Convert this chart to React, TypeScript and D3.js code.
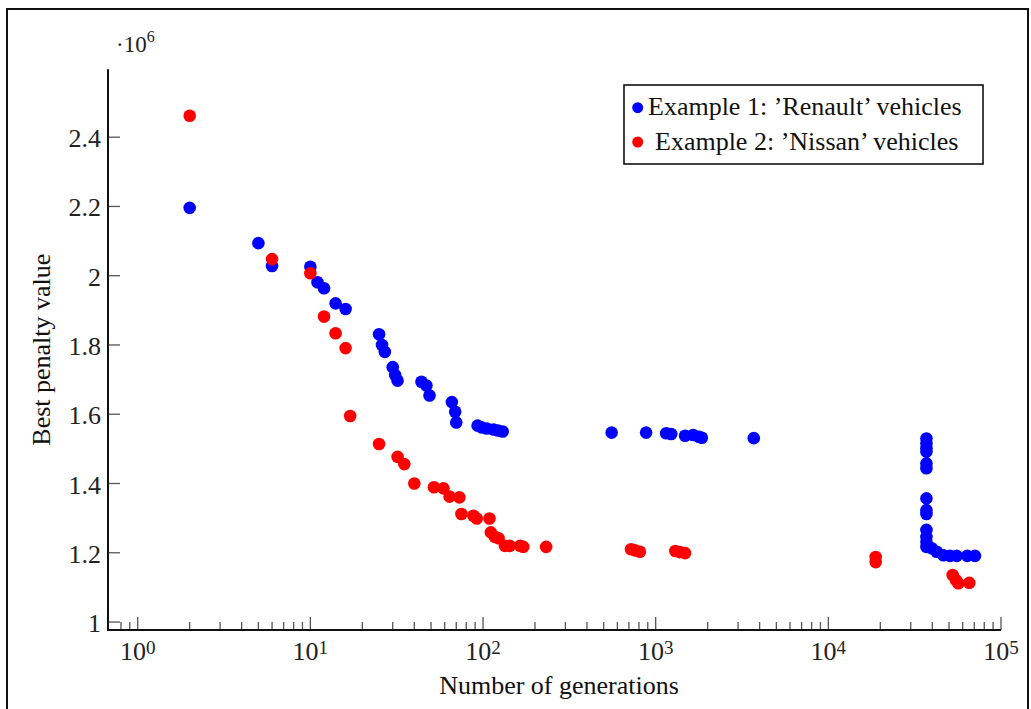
import React from "react";
import * as d3 from "d3";

// Data (penalty values in units of 10^6)
const renaultGenerations = [
  2, 5, 6, 10, 11, 12, 14, 16, 25, 26, 27, 30, 31, 32,
  44, 47, 49, 66, 69, 70,
  93, 98, 105, 115, 122, 130,
  556, 880, 1150, 1230, 1480, 1650, 1780, 1850, 3700,
  37000, 37000, 37000, 37000, 37000, 37000, 37000, 37000, 37000, 37000, 37000, 37000, 37000,
  39700, 42400, 46400, 50700, 55400, 63800, 70700,
];
const renaultPenalty = [
  2.196, 2.094, 2.028, 2.026, 1.981, 1.964, 1.92, 1.904, 1.831, 1.8, 1.78, 1.736, 1.713, 1.697,
  1.694, 1.683, 1.654, 1.635, 1.607, 1.576,
  1.567, 1.562, 1.559, 1.556, 1.553, 1.55,
  1.547, 1.547, 1.545, 1.543, 1.538, 1.54, 1.535, 1.532, 1.531,
  1.53, 1.516, 1.502, 1.492, 1.458, 1.444, 1.357, 1.323, 1.312, 1.266, 1.246, 1.232, 1.217,
  1.213, 1.203, 1.193, 1.191, 1.191, 1.191, 1.191,
];
const nissanGenerations = [
  2, 6, 10, 12, 14, 16, 17, 25, 32, 35,
  40, 52, 59, 64, 73, 75, 88, 92, 109, 111,
  117, 123, 134, 143, 164, 171, 232,
  720, 760, 810, 1300, 1380, 1480,
  18800, 18800,
  52500, 54900, 56600, 65500,
];
const nissanPenalty = [
  2.462, 2.048, 2.007, 1.882, 1.834, 1.791, 1.595, 1.514, 1.477, 1.456,
  1.4, 1.389, 1.386, 1.362, 1.36, 1.312, 1.307, 1.299, 1.299, 1.259,
  1.246, 1.242, 1.22, 1.22, 1.22, 1.217, 1.217,
  1.21, 1.207, 1.203, 1.205, 1.202, 1.199,
  1.188, 1.173,
  1.136, 1.121, 1.112, 1.113,
];
const yTickValues = [1, 1.2, 1.4, 1.6, 1.8, 2, 2.2, 2.4];
const yTickLabels = ["1", "1.2", "1.4", "1.6", "1.8", "2", "2.2", "2.4"];
const xMajorExponents = [0, 1, 2, 3, 4, 5];
const legendLabels = ["Example 1: \u2019Renault\u2019 vehicles", "Example 2: \u2019Nissan\u2019 vehicles"];
const seriesColors = ["#0000ff", "#ff0000"];

const FONT = "'Liberation Serif', 'Times New Roman', serif";

export default function App() {
  const left = 108, right = 1001, top = 69.3, bottom = 630;
  const x = d3.scaleLog().domain([Math.pow(10, -0.172), 1e5]).range([left, right]);
  const y = d3.scaleLinear().domain([0.977, 2.596]).range([bottom, top]);

  const minor: number[] = [];
  for (let k = -1; k <= 4; k++) {
    for (let m = 2; m <= 9; m++) {
      const v = m * Math.pow(10, k);
      const px = x(v);
      if (px > left + 6 && px <= right) minor.push(v);
    }
  }

  const renault = renaultGenerations.map((g, i) => [g, renaultPenalty[i]]);
  const nissan = nissanGenerations.map((g, i) => [g, nissanPenalty[i]]);
  const r = 6.3;

  return (
    <div style={{ position: "absolute", left: 0, top: 0 }}>
      <svg width={1031} height={709} style={{ display: "block", background: "#fff" }}>
        <rect x={7} y={9} width={1021} height={720} fill="#fff" stroke="#111" strokeWidth={2} />

        {/* y ticks */}
        {yTickValues.map((v, i) => (
          <g key={"yt" + i}>
            <line x1={left} x2={left + 12} y1={y(v)} y2={y(v)} stroke="#555" strokeWidth={1.3} />
            <text x={left - 7} y={y(v) + 10} textAnchor="end" fontFamily={FONT} fontSize={26} fill="#222">
              {yTickLabels[i]}
            </text>
          </g>
        ))}

        {/* x minor ticks */}
        {minor.map((v, i) => (
          <line key={"xm" + i} x1={x(v)} x2={x(v)} y1={bottom} y2={bottom - 8} stroke="#555" strokeWidth={1.3} />
        ))}
        {/* x major ticks + labels */}
        {xMajorExponents.map((e) => (
          <g key={"xM" + e}>
            <line x1={x(Math.pow(10, e))} x2={x(Math.pow(10, e))} y1={bottom} y2={bottom - 13} stroke="#555" strokeWidth={1.3} />
            <text x={x(Math.pow(10, e))} y={660} textAnchor="middle" fontFamily={FONT} fontSize={26} fill="#222">
              10
              <tspan fontSize={19} dy={-6}>{e}</tspan>
            </text>
          </g>
        ))}

        {/* axis lines */}
        <line x1={left} x2={left} y1={top} y2={bottom + 1} stroke="#111" strokeWidth={2} />
        <line x1={left - 1} x2={right} y1={bottom} y2={bottom} stroke="#111" strokeWidth={2} />

        {/* scale label */}
        <text x={116} y={52} fontFamily={FONT} fontSize={23} fill="#222">
          {"\u00b710"}
          <tspan fontSize={16} dy={-10}>6</tspan>
        </text>

        {/* axis titles */}
        <text x={559} y={694} textAnchor="middle" fontFamily={FONT} fontSize={26} fill="#111">
          Number of generations
        </text>
        <text transform={`translate(50, ${(top + bottom) / 2}) rotate(-90)`} textAnchor="middle" fontFamily={FONT} fontSize={26} fill="#111">
          Best penalty value
        </text>

        {/* data */}
        {renault.map((d, i) => (
          <circle key={"b" + i} cx={x(d[0])} cy={y(d[1])} r={r} fill={seriesColors[0]} />
        ))}
        {nissan.map((d, i) => (
          <circle key={"r" + i} cx={x(d[0])} cy={y(d[1])} r={r} fill={seriesColors[1]} />
        ))}

        {/* legend */}
        <rect x={624} y={85} width={359} height={79} fill="#fff" stroke="#111" strokeWidth={1.6} />
        {legendLabels.map((lab, i) => (
          <g key={"lg" + i}>
            <circle cx={637.7} cy={107.7 + i * 34.3} r={5.5} fill={seriesColors[i]} />
            <text x={i === 0 ? 648 : 655} y={115 + i * 34.5} fontFamily={FONT} fontSize={26} fill="#111">
              {lab}
            </text>
          </g>
        ))}
      </svg>
    </div>
  );
}
